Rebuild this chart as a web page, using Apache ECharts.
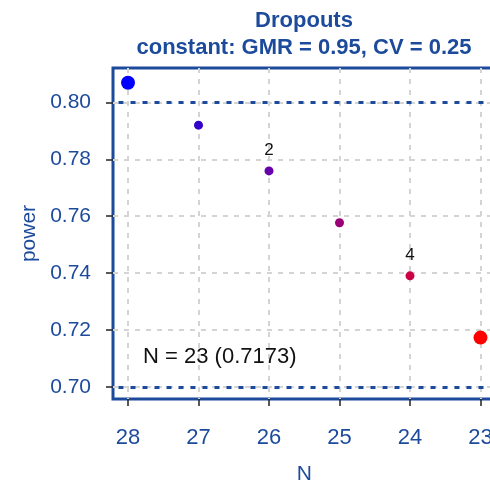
<!DOCTYPE html>
<html>
<head>
<meta charset="utf-8">
<script src="https://cdn.jsdelivr.net/npm/echarts@6/dist/echarts.min.js"></script>
<style>
    html, body { margin: 0; padding: 0; background: #fff; }
    #chart { width: 490px; height: 482px; }
</style>
</head>
<body>
<div id="chart"></div>
<script>
    // sample sizes (reversed axis) and power
    const nValues = [28, 27, 26, 25, 24, 23];
    const powerValues = [0.8069, 0.7920, 0.7759, 0.7577, 0.7390, 0.7173];
    const dropoutLabels = ['', '', '2', '', '4', ''];
    const xTicks = [28, 27, 26, 25, 24, 23];
    const yTicks = [0.70, 0.72, 0.74, 0.76, 0.78, 0.80];
    const refLines = [0.80, 0.70];

    const pointColors = ['#0000ff', '#3300cc', '#6600aa', '#990077', '#cc0044', '#ff0000'];
    const pointSizes = [14, 9, 9, 9, 9, 14];
    const blue = '#1d4b9c';
    const font = 'Liberation Sans, Arial, sans-serif';

    const last = nValues.length - 1;
    const seriesData = nValues.map(function (n, i) {
        return {
            value: [n, powerValues[i]],
            symbolSize: pointSizes[i],
            itemStyle: { color: pointColors[i], opacity: 1 },
            label: {
                show: dropoutLabels[i] !== '',
                formatter: dropoutLabels[i],
                position: 'top',
                distance: 8,
                color: '#111',
                fontSize: 17,
                fontFamily: font
            }
        };
    });

    const gridLine = { show: true, lineStyle: { color: '#d4d4d4', type: [5, 6], width: 2 } };

    const option = {
        animation: false,
        title: {
            text: 'Dropouts\nconstant: GMR = 0.95, CV = 0.25',
            left: 304,
            top: 7,
            padding: 0,
            textAlign: 'center',
            textStyle: { color: blue, fontSize: 22, fontWeight: 'bold', fontFamily: font, lineHeight: 27 }
        },
        grid: {
            left: 113, top: 68, width: 382.5, height: 331,
            outerBoundsMode: 'none',
            containLabel: false,
            show: true, borderColor: blue, borderWidth: 3, backgroundColor: 'transparent'
        },
        xAxis: {
            type: 'value',
            inverse: true,
            min: 22.787, max: 28.213,
            name: 'N',
            nameLocation: 'middle',
            nameGap: 65,
            nameTextStyle: { color: blue, fontSize: 21, fontFamily: font },
            axisLine: { show: false },
            axisTick: { show: true, length: 7, customValues: xTicks, lineStyle: { color: '#222', width: 1.5 } },
            axisLabel: { customValues: xTicks, margin: 28, color: blue, fontSize: 22, fontFamily: font },
            splitLine: gridLine
        },
        yAxis: {
            type: 'value',
            min: 0.6957, max: 0.8121,
            name: 'power',
            nameLocation: 'middle',
            nameGap: 67,
            nameTextStyle: { color: blue, fontSize: 21, fontFamily: font },
            axisLine: { show: false },
            axisTick: { show: true, length: 7, customValues: yTicks, lineStyle: { color: '#222', width: 1.5 } },
            axisLabel: {
                customValues: yTicks, margin: 22, color: blue, fontSize: 21, fontFamily: font,
                formatter: function (v) { return v.toFixed(2); }
            },
            splitLine: gridLine
        },
        series: [{
            type: 'scatter',
            symbol: 'circle',
            data: seriesData,
            z: 5,
            markLine: {
                silent: true,
                symbol: 'none',
                label: { show: false },
                lineStyle: { color: blue, type: [5, 7], width: 3 },
                data: refLines.map(function (v) { return { yAxis: v }; })
            },
            markPoint: {
                silent: true,
                symbol: 'circle',
                symbolSize: 0,
                data: [{
                    coord: [27.787, 0.7104],
                    label: {
                        show: true,
                        position: 'right',
                        distance: 0,
                        formatter: 'N = ' + nValues[last] + ' (' + powerValues[last].toFixed(4) + ')',
                        color: '#111',
                        fontSize: 22,
                        fontFamily: font
                    }
                }]
            }
        }]
    };

    echarts.init(document.getElementById('chart')).setOption(option);
</script>
</body>
</html>
